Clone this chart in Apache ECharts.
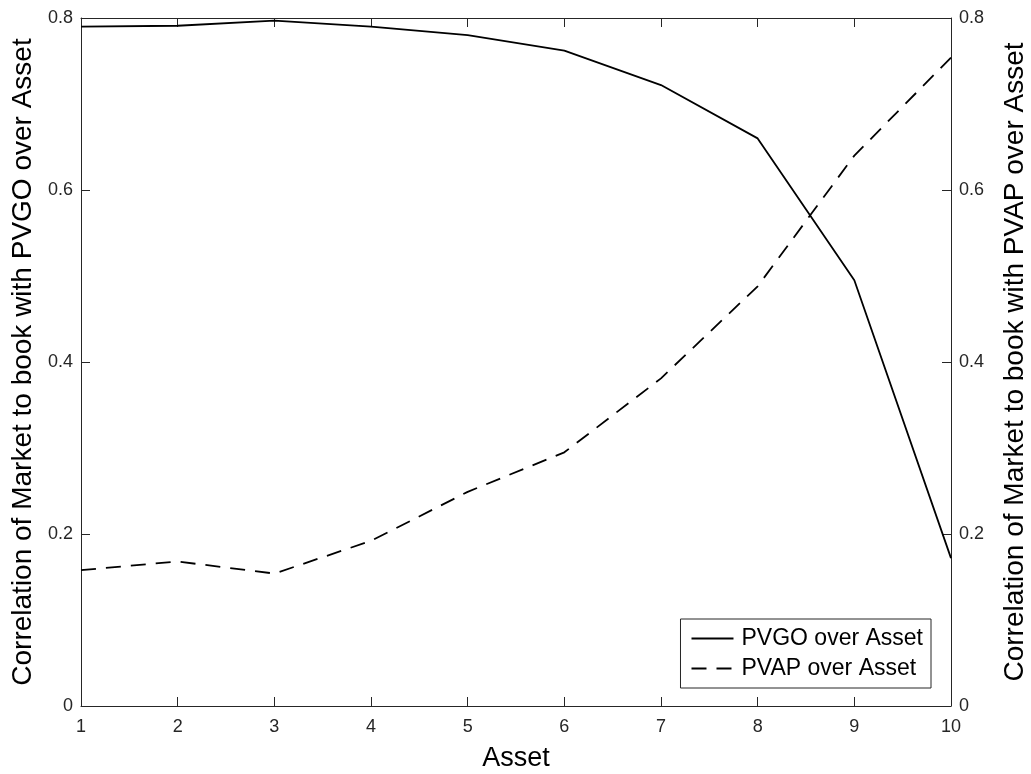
<!DOCTYPE html>
<html>
<head>
<meta charset="utf-8">
<script src="https://cdn.jsdelivr.net/npm/echarts@6/dist/echarts.min.js"></script>
<style>html,body{margin:0;padding:0;background:#fff}#c{width:1031px;height:774px}</style>
</head>
<body>
<div id="c"></div>
<script>
const assets = [1, 2, 3, 4, 5, 6, 7, 8, 9, 10];
const pvgo = [0.790, 0.791, 0.797, 0.790, 0.780, 0.762, 0.722, 0.660, 0.495, 0.172];
const pvap = [0.158, 0.168, 0.154, 0.192, 0.249, 0.295, 0.381, 0.488, 0.640, 0.754];
const yTicks = [0, 0.2, 0.4, 0.6, 0.8];
const seriesNames = ['PVGO over Asset', 'PVAP over Asset'];
const xTitle = 'Asset';
const yLeftTitle = 'Correlation of Market to book with PVGO over Asset';
const yRightTitle = 'Correlation of Market to book with PVAP over Asset';

const font = 'Liberation Sans, Arial, Helvetica, sans-serif';
const axisColor = '#262626';
const dash = [15, 10];
const chart = echarts.init(document.getElementById('c'));
const pair = (xs, ys) => xs.map((x, i) => [x, ys[i]]);
const yAxisBase = {
  type: 'value', min: yTicks[0], max: yTicks[yTicks.length - 1], interval: 0.2,
  nameLocation: 'middle',
  nameTextStyle: { fontFamily: font, fontSize: 28, color: '#000' },
  axisLine: { show: true, lineStyle: { color: axisColor, width: 1 } },
  axisTick: { show: true, inside: true, length: 9, lineStyle: { color: axisColor } },
  axisLabel: { fontFamily: font, fontSize: 18, color: '#262626', margin: 8,
    formatter: v => (v === 0 ? '0' : String(+v.toFixed(1))) },
  splitLine: { show: false }
};
chart.setOption({
  animation: false,
  backgroundColor: '#fff',
  grid: { left: 81, right: 80, top: 18, bottom: 68, containLabel: false, outerBoundsMode: 'none' },
  legend: {
    orient: 'vertical', right: 100, bottom: 86,
    data: [
      { name: seriesNames[0], itemStyle: { opacity: 0 }, lineStyle: { type: 'solid', width: 2, color: '#000' } },
      { name: seriesNames[1], itemStyle: { opacity: 0 }, lineStyle: { type: dash, width: 2, color: '#000' } }
    ],
    backgroundColor: '#fff', borderColor: '#262626', borderWidth: 1, borderRadius: 0,
    padding: [8, 8, 8, 10], itemGap: 7, itemWidth: 42, itemHeight: 14,
    textStyle: { fontFamily: font, fontSize: 23, color: '#000', padding: [0, 0, 0, 3] }
  },
  xAxis: [{
    type: 'value', min: 1, max: 10, interval: 1, position: 'bottom',
    name: xTitle, nameLocation: 'middle', nameGap: 39,
    nameTextStyle: { fontFamily: font, fontSize: 27, color: '#000' },
    axisLine: { show: true, onZero: false, lineStyle: { color: axisColor, width: 1 } },
    axisTick: { show: true, inside: true, length: 9, lineStyle: { color: axisColor } },
    axisLabel: { fontFamily: font, fontSize: 18, color: '#262626', margin: 12 },
    splitLine: { show: false }
  }, {
    type: 'value', min: 1, max: 10, interval: 1, position: 'top',
    axisLine: { show: true, onZero: false, lineStyle: { color: axisColor, width: 1 } },
    axisTick: { show: true, inside: true, length: 9, lineStyle: { color: axisColor } },
    axisLabel: { show: false },
    splitLine: { show: false }
  }],
  yAxis: [
    Object.assign({}, yAxisBase, { position: 'left', name: yLeftTitle, nameGap: 42 }),
    Object.assign({}, yAxisBase, { position: 'right', name: yRightTitle, nameGap: 50 })
  ],
  series: [{
    name: seriesNames[0], type: 'line', xAxisIndex: 0, yAxisIndex: 0,
    data: pair(assets, pvgo), symbol: 'none',
    lineStyle: { color: '#000', width: 1.8, type: 'solid' },
    itemStyle: { color: '#000' }
  }, {
    name: seriesNames[1], type: 'line', xAxisIndex: 0, yAxisIndex: 1,
    data: pair(assets, pvap), symbol: 'none',
    lineStyle: { color: '#000', width: 1.8, type: dash },
    itemStyle: { color: '#000' }
  }]
});
</script>
</body>
</html>
